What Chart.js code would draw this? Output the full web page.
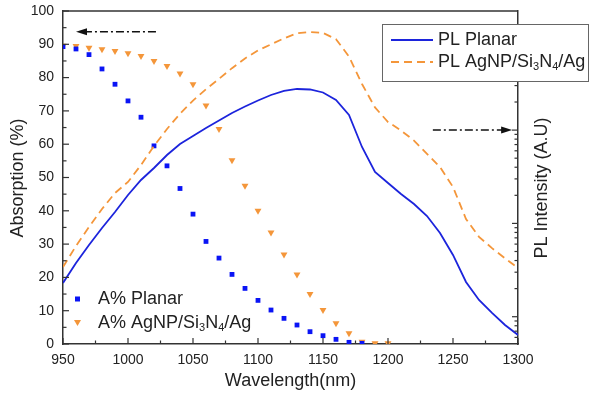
<!DOCTYPE html>
<html><head><meta charset="utf-8">
<script src="https://cdn.jsdelivr.net/npm/chart.js@4.4.1/dist/chart.umd.min.js"></script>
<style>html,body{margin:0;padding:0;background:#fff}#wrap{width:593px;height:396px;position:relative}</style>
</head><body><div id="wrap"><canvas id="c"></canvas></div>
<script>
// ---- data ----
const absWavelengthPlanar = [950,960,970,980,990,1000,1010,1020,1030,1040,1050,1060,1070,1080,1090,1100,1110,1120,1130,1140,1150,1160,1170,1180];
const absPlanar = [89.3,88.6,86.9,82.6,78.0,73.0,68.1,59.5,53.5,46.7,39.0,30.8,25.8,20.9,16.7,13.1,10.2,7.7,5.7,3.7,2.5,1.4,0.5,0.2];
const absWavelengthAgNP = [950,960,970,980,990,1000,1010,1020,1030,1040,1050,1060,1070,1080,1090,1100,1110,1120,1130,1140,1150,1160,1170,1180,1190,1200];
const absAgNP = [89.6,89.5,89.0,88.5,88.0,87.3,86.5,85.0,83.5,81.2,78.0,71.6,64.6,55.2,47.5,40.0,33.5,26.9,20.9,15.0,10.2,6.2,3.2,0.7,0.2,0.2];
const plWavelength = [950,960,970,980,990,1000,1010,1020,1030,1040,1050,1060,1070,1080,1090,1100,1110,1120,1130,1140,1150,1160,1170,1180,1190,1200,1210,1220,1230,1240,1250,1260,1270,1280,1290,1300];
const plPlanar = [2300,3770,5870,8930,13260,20160,29200,39270,54110,71000,86500,105400,126800,152600,179200,207700,237900,262700,275900,272500,253100,210300,145200,65940,35580,27120,20670,16150,12010,7890,4590,2360,1510,1100,815,637];
const plAgNP = [3410,5730,9150,14270,21180,27800,42280,67560,102800,149600,207200,274600,354800,461000,585700,715000,829300,962000,1091000,1126000,1102000,943200,613800,312100,174800,122200,99060,77220,55740,40250,24570,11150,7170,5430,4230,3330];
const xTickLabels = [950,1000,1050,1100,1150,1200,1250,1300];
const yTickLabels = [0,10,20,30,40,50,60,70,80,90,100];
const seriesNames = ['PL Planar','PL AgNP/Si3N4/Ag','A% Planar','A% AgNP/Si3N4/Ag'];

const BLUE = '#1c24dc', BLUE_PT = '#0a14f5', ORANGE = '#f4963a', AXIS = '#333', TXT = '#222';
const FONT = '"Liberation Sans", Arial, sans-serif';

const pairs = (xs, ys) => xs.map((x, i) => ({x, y: ys[i]}));

function line(ctx, x1, y1, x2, y2){ ctx.beginPath(); ctx.moveTo(x1,y1); ctx.lineTo(x2,y2); ctx.stroke(); }

function richText(ctx, parts, x, y, size){
  let cx = x;
  for (const [t, sub] of parts){
    ctx.font = (sub ? Math.round(size*0.6) : size) + 'px ' + FONT;
    ctx.fillText(t, cx, sub ? y + size*0.3 : y);
    cx += ctx.measureText(t).width;
  }
}
const sub34 = (pre) => [[pre + 'AgNP/Si', false], ['3', true], ['N', false], ['4', true], ['/Ag', false]];

function arrow(ctx, xTail, xTip, y){
  ctx.save();
  ctx.strokeStyle = '#111'; ctx.fillStyle = '#111'; ctx.lineWidth = 1.5;
  ctx.setLineDash([8,3,2,3]);
  const dir = Math.sign(xTip - xTail);
  line(ctx, xTail, y, xTip - dir*9, y);
  ctx.setLineDash([]);
  ctx.beginPath(); ctx.moveTo(xTip, y); ctx.lineTo(xTip - dir*11, y - 3.5); ctx.lineTo(xTip - dir*11, y + 3.5); ctx.closePath(); ctx.fill();
  ctx.restore();
}

const noPad = s => { s.paddingTop = 0; s.paddingBottom = 0; s.paddingLeft = 0; s.paddingRight = 0; };

const decor = {
  id: 'decor',
  afterDraw(chart){
    const {ctx, chartArea: a, scales: {x, y, y2}} = chart;
    ctx.save();
    ctx.strokeStyle = AXIS; ctx.lineWidth = 1.5;
    line(ctx, a.left, a.top, a.right, a.top);
    ctx.lineWidth = 1.2;
    for (let v = 950; v <= 1300; v += 25){
      const px = x.getPixelForValue(v);
      line(ctx, px, a.bottom, px, a.bottom - (v % 50 === 0 ? 6 : 3.5));
    }
    for (let v = 0; v <= 100; v += 5){
      const py = y.getPixelForValue(v);
      line(ctx, a.left, py, a.left + (v % 10 === 0 ? 6 : 3.5), py);
    }
    for (let e = 2; e <= 6; e++){
      for (let d = 1; d <= 9; d++){
        const v = d * Math.pow(10, e);
        if (v < y2.min || v > y2.max) continue;
        const py = y2.getPixelForValue(v);
        line(ctx, a.right, py, a.right - (d === 1 ? 6 : 3.5), py);
      }
    }
    // arrows
    arrow(ctx, x.getPixelForValue(1021.5), x.getPixelForValue(960), y.getPixelForValue(93.8));
    arrow(ctx, x.getPixelForValue(1234.5), x.getPixelForValue(1295.5), y2.getPixelForValue(1e5));
    // titles
    ctx.fillStyle = TXT; ctx.font = '18px ' + FONT; ctx.textAlign = 'center'; ctx.textBaseline = 'middle';
    ctx.fillText('Wavelength(nm)', (a.left + a.right)/2, 381);
    ctx.save(); ctx.translate(18, 178); ctx.rotate(-Math.PI/2); ctx.fillText('Absorption (%)', 0, 0); ctx.restore();
    ctx.save(); ctx.translate(542, 188); ctx.rotate(-Math.PI/2); ctx.fillText('PL Intensity (A.U)', 0, 0); ctx.restore();
    // top-right legend
    ctx.fillStyle = '#fff'; ctx.fillRect(382, 24.5, 206, 57);
    ctx.strokeStyle = '#666'; ctx.lineWidth = 1; ctx.strokeRect(382.5, 24.5, 206, 57);
    ctx.lineWidth = 1.8; ctx.strokeStyle = BLUE; line(ctx, 391, 40, 433, 40);
    ctx.strokeStyle = ORANGE; ctx.setLineDash([8,5]); line(ctx, 391, 62, 433, 62); ctx.setLineDash([]);
    ctx.fillStyle = TXT; ctx.textAlign = 'left'; ctx.textBaseline = 'middle';
    ctx.font = '18px ' + FONT; ctx.fillText(seriesNames[0], 438, 40);
    richText(ctx, sub34('PL '), 438, 62, 18);
    // bottom-left legend
    ctx.fillStyle = BLUE_PT; ctx.fillRect(75, 296.5, 5, 5);
    ctx.fillStyle = ORANGE; ctx.beginPath(); ctx.moveTo(74, 320); ctx.lineTo(81, 320); ctx.lineTo(77.5, 326); ctx.closePath(); ctx.fill();
    ctx.fillStyle = TXT; ctx.font = '18px ' + FONT; ctx.fillText(seriesNames[2], 98, 299);
    richText(ctx, sub34('A% '), 98, 323, 18);
    ctx.restore();
  }
};

new Chart(document.getElementById('c'), {
  type: 'line',
  data: {
    datasets: [
      {label: seriesNames[0], data: pairs(plWavelength, plPlanar), yAxisID: 'y2', borderColor: BLUE, borderWidth: 1.8, pointRadius: 0, tension: 0, fill: false},
      {label: seriesNames[1], data: pairs(plWavelength, plAgNP), yAxisID: 'y2', borderColor: ORANGE, borderWidth: 1.8, borderDash: [8,5], pointRadius: 0, tension: 0, fill: false},
      {label: seriesNames[2], data: pairs(absWavelengthPlanar, absPlanar), yAxisID: 'y', showLine: false, pointStyle: 'rect', pointRadius: 3.4, backgroundColor: BLUE_PT, borderWidth: 0},
      {label: seriesNames[3], data: pairs(absWavelengthAgNP, absAgNP), yAxisID: 'y', showLine: false, pointStyle: 'triangle', rotation: 180, pointRadius: 4, backgroundColor: ORANGE, borderWidth: 0}
    ]
  },
  options: {
    responsive: true, maintainAspectRatio: false, animation: false,
    layout: {padding: {top: 11, left: 0, right: 0, bottom: 0}},
    plugins: {legend: {display: false}, tooltip: {enabled: false}},
    scales: {
      x: {type: 'linear', min: 950, max: 1300,
          afterBuildTicks: s => { s.ticks = xTickLabels.map(v => ({value: v})); },
          afterFit: s => { s.height = 52; noPad(s); },
          grid: {drawOnChartArea: false, drawTicks: false},
          border: {display: true, color: AXIS, width: 1.5},
          ticks: {padding: 8, color: TXT, font: {family: FONT, size: 14}, maxRotation: 0, autoSkip: false, callback: v => String(v)}},
      y: {type: 'linear', position: 'left', min: 0, max: 100,
          afterBuildTicks: s => { s.ticks = yTickLabels.map(v => ({value: v})); },
          afterFit: s => { s.width = 63; noPad(s); },
          grid: {drawOnChartArea: false, drawTicks: false},
          border: {display: true, color: AXIS, width: 1.5},
          ticks: {padding: 9, color: TXT, font: {family: FONT, size: 14}, autoSkip: false, callback: v => String(v)}},
      y2: {type: 'logarithmic', position: 'right', min: 510, max: 1.89e6,
          afterFit: s => { s.width = 75; noPad(s); },
          grid: {drawOnChartArea: false, drawTicks: false},
          border: {display: true, color: AXIS, width: 1.5},
          ticks: {display: false}}
    }
  },
  plugins: [decor]
});
</script>
</body></html>
